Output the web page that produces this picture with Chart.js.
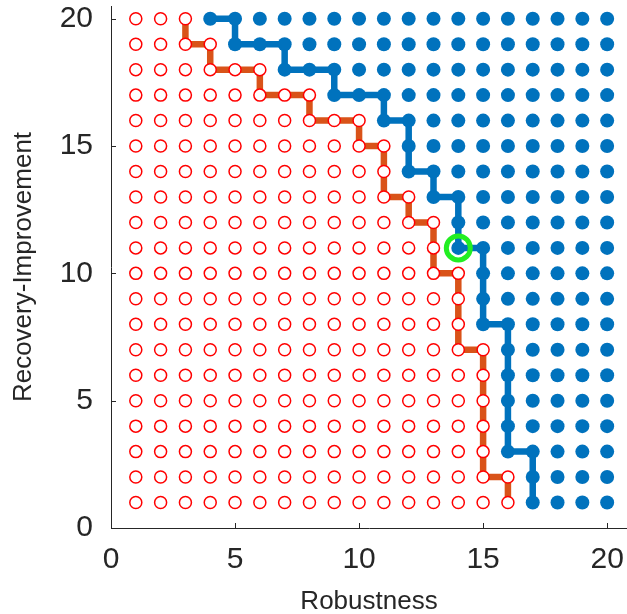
<!DOCTYPE html>
<html><head><meta charset="utf-8">
<script src="https://cdn.jsdelivr.net/npm/chart.js@4.4.1/dist/chart.umd.min.js"></script>
<style>html,body{margin:0;padding:0;background:#fff;overflow:hidden}canvas{display:block}</style>
</head><body>
<canvas id="c" width="627" height="614"></canvas>
<script>
// ---- data ----
const robustness = [1,2,3,4,5,6,7,8,9,10,11,12,13,14,15,16,17,18,19,20];
const recoveryRows = [20,19,18,17,16,15,14,13,12,11,10,9,8,7,6,5,4,3,2,1];
// last infeasible (red) robustness value in each row (rows 20..1)
const lastInfeasible = [3,4,6,8,10,11,11,12,13,13,14,14,14,15,15,15,15,15,16,16];
// first feasible (blue) robustness value in each row (rows 20..1)
const firstFeasible = [4,5,7,9,11,12,12,13,14,14,15,15,15,16,16,16,16,16,17,17];
const selectedX = [14];
const selectedY = [11];
const xTickValues = [0,5,10,15,20];
const yTickValues = [0,5,10,15,20];
const xLimits = [0, 20.8];
const yLimits = [0, 20.5];

// ---- build datasets ----
const redPts = [], bluePts = [];
recoveryRows.forEach((y, i) => {
  robustness.forEach(x => {
    if (x <= lastInfeasible[i]) redPts.push({x, y});
    if (x >= firstFeasible[i]) bluePts.push({x, y});
  });
});
const redPath = [{x: lastInfeasible[0], y: recoveryRows[0]}];
for (let i = 1; i < recoveryRows.length; i++) {
  redPath.push({x: lastInfeasible[i-1], y: recoveryRows[i]});
  redPath.push({x: lastInfeasible[i], y: recoveryRows[i]});
}
const bluePath = [];
for (let i = 0; i < recoveryRows.length; i++) {
  bluePath.push({x: firstFeasible[i], y: recoveryRows[i]});
  if (i + 1 < recoveryRows.length) bluePath.push({x: firstFeasible[i+1], y: recoveryRows[i]});
}
const selected = selectedX.map((x, i) => ({x, y: selectedY[i]}));

const AX = '#262626';
const FONT = "'Liberation Sans', Arial, Helvetica, sans-serif";

const inwardTicks = {
  id: 'inwardTicks',
  afterDraw(chart) {
    const {ctx, chartArea: a, scales: {x, y}} = chart;
    ctx.save();
    ctx.strokeStyle = AX; ctx.lineWidth = 1;
    ctx.beginPath();
    x.ticks.forEach(t => { const px = Math.round(x.getPixelForValue(t.value)) + 0.5; ctx.moveTo(px, a.bottom); ctx.lineTo(px, a.bottom - 5); });
    y.ticks.forEach(t => { const py = Math.round(y.getPixelForValue(t.value)) + 0.5; ctx.moveTo(a.left, py); ctx.lineTo(a.left + 5, py); });
    ctx.stroke();
    ctx.restore();
  }
};
const noPad = s => { s.paddingTop = 0; s.paddingBottom = 0; s.paddingLeft = 0; s.paddingRight = 0; };

new Chart(document.getElementById('c'), {
  type: 'scatter',
  data: {
    datasets: [
      { label: 'selected', data: selected, pointRadius: 12, pointBorderWidth: 5,
        pointBorderColor: '#22ee22', pointBackgroundColor: 'rgba(0,0,0,0)', order: 0 },
      { label: 'infeasible', data: redPts, pointRadius: 6, pointBorderWidth: 1.5,
        pointBorderColor: '#ff0000', pointBackgroundColor: '#ffffff', order: 1 },
      { label: 'feasible', data: bluePts, pointRadius: 7, pointBorderWidth: 0,
        pointBorderColor: '#0072BD', pointBackgroundColor: '#0072BD', order: 2 },
      { type: 'line', label: 'infeasible boundary', data: redPath, showLine: true, pointRadius: 0,
        borderColor: '#D95319', borderWidth: 6.5, fill: false, tension: 0, order: 3 },
      { type: 'line', label: 'feasible boundary', data: bluePath, showLine: true, pointRadius: 0,
        borderColor: '#0072BD', borderWidth: 6.5, fill: false, tension: 0, order: 4 }
    ]
  },
  options: {
    responsive: false,
    animation: false,
    events: [],
    layout: { autoPadding: false, padding: { top: 6, right: 0, left: 0, bottom: 0 } },
    plugins: { legend: { display: false }, tooltip: { enabled: false } },
    scales: {
      x: {
        type: 'linear', min: xLimits[0], max: xLimits[1],
        afterBuildTicks: s => { s.ticks = xTickValues.map(v => ({value: v})); },
        afterFit: s => { s.height = 86; noPad(s); },
        grid: { display: false },
        border: { display: true, color: AX, width: 1 },
        ticks: { color: AX, padding: 6, font: { family: FONT, size: 30 }, maxRotation: 0 },
        title: { display: true, text: 'Robustness', color: AX, font: { family: FONT, size: 26 }, padding: { top: 0, bottom: -3 } }
      },
      y: {
        type: 'linear', min: yLimits[0], max: yLimits[1],
        afterBuildTicks: s => { s.ticks = yTickValues.map(v => ({value: v})); },
        afterFit: s => { s.width = 111; noPad(s); },
        grid: { display: false },
        border: { display: true, color: AX, width: 1 },
        ticks: { color: AX, padding: 10, font: { family: FONT, size: 30 } },
        title: { display: true, text: 'Recovery-Improvement', color: AX, font: { family: FONT, size: 26 }, padding: { top: 8, bottom: 0 } }
      }
    }
  },
  plugins: [inwardTicks]
});
</script>
</body></html>
